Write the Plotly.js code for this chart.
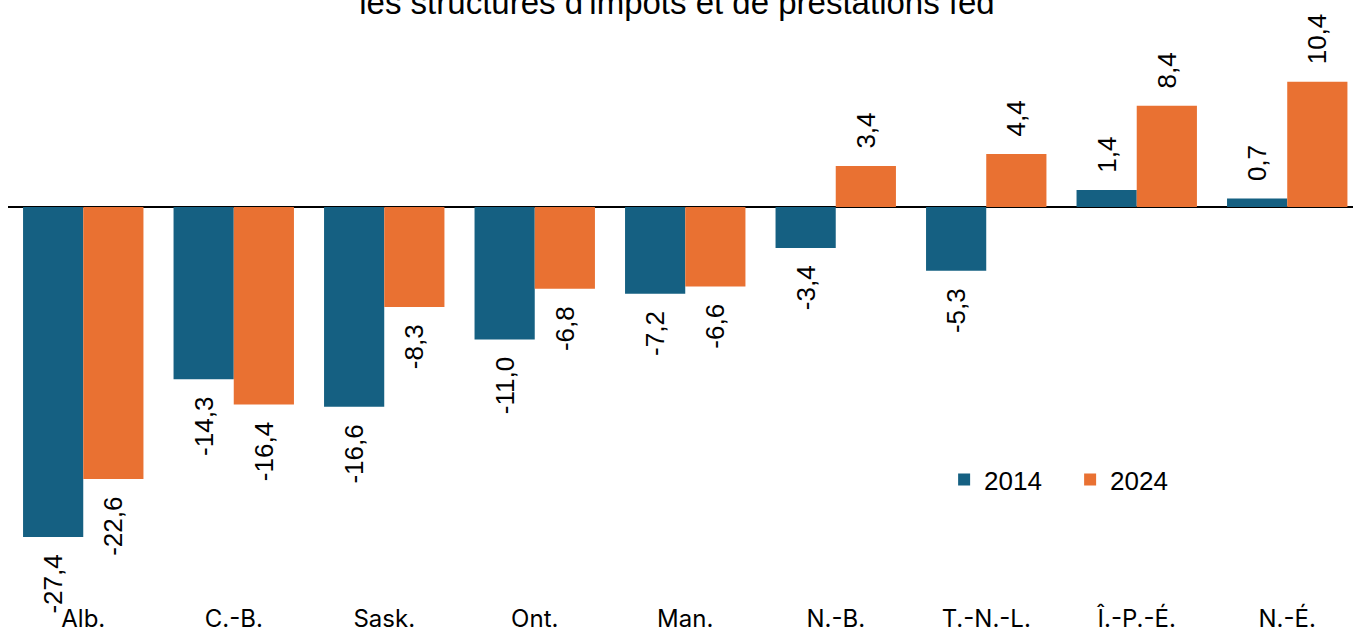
<!DOCTYPE html>
<html>
<head>
<meta charset="utf-8">
<script src="https://cdn.plot.ly/plotly-3.0.1.min.js"></script>
<style>html,body{margin:0;padding:0;background:#fff;}#chart{width:1353px;height:631px;}</style>
</head>
<body>
<div id="chart"></div>
<script>
const categories = ["Alb.", "C.-B.", "Sask.", "Ont.", "Man.", "N.-B.", "T.-N.-L.", "Î.-P.-É.", "N.-É."];
const values2014 = [-27.4, -14.3, -16.6, -11.0, -7.2, -3.4, -5.3, 1.4, 0.7];
const values2024 = [-22.6, -16.4, -8.3, -6.8, -6.6, 3.4, 4.4, 8.4, 10.4];
const seriesNames = ["2014", "2024"];
const titleText = "les structures d'impôts et de prestations féd";

const PAD = "\u00a0\u00a0";
const fmt = v => v.toFixed(1).replace('.', ',');
const label = v => v >= 0 ? PAD + fmt(v) : fmt(v) + PAD;
const labelFont = {family: "Liberation Sans, Arial, sans-serif", size: 26, color: "#000"};

const traces = [
  {type: "bar", name: seriesNames[0], x: categories, y: values2014,
   marker: {color: "#156082"}, text: values2014.map(label), textposition: "outside",
   textangle: -90, textfont: labelFont, constraintext: "none", cliponaxis: false, hoverinfo: "skip"},
  {type: "bar", name: seriesNames[1], x: categories, y: values2024,
   marker: {color: "#E97132"}, text: values2024.map(label), textposition: "outside",
   textangle: -90, textfont: labelFont, constraintext: "none", cliponaxis: false, hoverinfo: "skip"}
];

const layout = {
  width: 1353, height: 631,
  margin: {l: 8, r: 0, t: 26, b: 31},
  paper_bgcolor: "#fff", plot_bgcolor: "#fff",
  barmode: "group", bargap: 0.2, bargroupgap: 0,
  showlegend: true,
  legend: {orientation: "h", x: 0.696, y: 0.2505, xanchor: "left", yanchor: "top",
           font: {family: "Liberation Sans, Arial, sans-serif", size: 26, color: "#000"},
           entrywidth: 81, tracegroupgap: 0, bgcolor: "rgba(0,0,0,0)"},
  title: {text: titleText, x: 677/1353, xanchor: "center", xref: "container",
          y: 1 - 2/631, yanchor: "middle", yref: "container",
          font: {family: "Liberation Sans, Arial, sans-serif", size: 33, color: "#000"}},
  xaxis: {type: "category", range: [-0.5, 8.437], showgrid: false, showline: false, ticks: "",
          tickfont: {family: "Inter, Liberation Sans, sans-serif", size: 24, color: "#000"},
          ticklabelstandoff: 2, fixedrange: true},
  yaxis: {range: [-32.64, 15.03], showgrid: false, showticklabels: false, ticks: "",
          showline: false, zeroline: true, zerolinecolor: "#000", zerolinewidth: 2, fixedrange: true}
};

Plotly.newPlot("chart", traces, layout, {displayModeBar: false, staticPlot: true});
</script>
</body>
</html>
